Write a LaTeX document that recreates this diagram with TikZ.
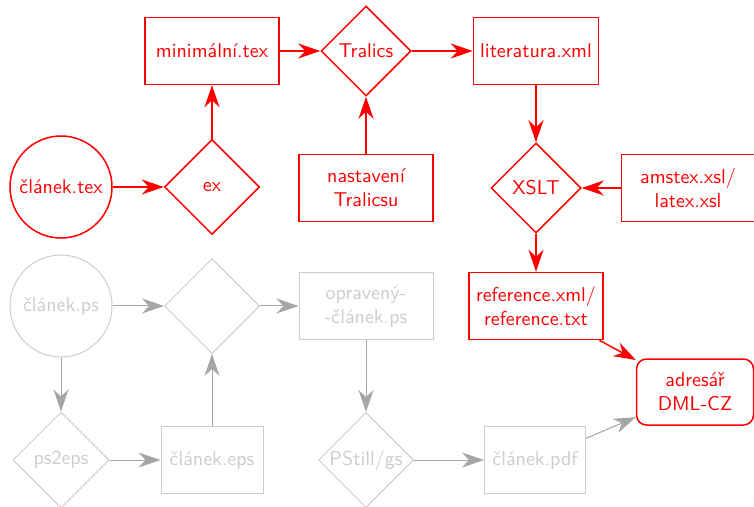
\documentclass[tikz,border=0pt]{standalone}
\usepackage{fontspec}
\usetikzlibrary{shapes.geometric}
\usetikzlibrary{arrows.meta}
\tikzset{
  every picture/.style={
    >={Stealth[length=11pt, width=7.5pt, inset=3.5pt]}
  },
  live/.style={
    draw=red, text=red, line width=0.75pt
  },
  dead/.style={
    draw=gray!40, text=gray!40, line width=0.5pt
  },
  live arrow/.style={
    ->, draw=red, line width=0.75pt
  },
  dead arrow/.style={
    ->, draw=gray!70, line width=0.5pt
  }
}

\begin{document}
\begin{tikzpicture}[
      x=0.5pt, y=-0.5pt, font=\sffamily,
      file/.style={rectangle, minimum width=67pt, minimum height=33.5pt, align=center},
      tool/.style={diamond, aspect=1, inner sep=0pt, minimum width=47.5pt, minimum height=47.5pt},
      src/.style={circle, minimum size=51pt, inner sep=0pt}
    ]
      \useasboundingbox (0,0) rectangle (754,507);
      \node [src,live] (tex) at (61,187) {článek.tex};
      \node [tool,live] (ex) at (212,187) {ex};
      \node [file,live] (min) at (212,51) {minimální.tex};
      \node [tool,live,minimum width=45pt,minimum height=45pt] (tralics) at (366,51) {Tralics};
      \node [file,live] (set) at (366,188) {nastavení\\Tralicsu};
      \node [file,live,minimum width=62.5pt] (lit) at (536,51) {literatura.xml};
      \node [tool,live,minimum width=45pt,minimum height=45pt] (xslt) at (536,188) {XSLT};
      \node [file,live,minimum width=66.5pt] (xsl) at (688,188) {amstex.xsl/\\latex.xsl};
      \node [file,live] (ref) at (536,306) {reference.xml/\\reference.txt};
      \node [file,live,minimum width=58.5pt,minimum height=33pt,rounded corners=5pt] (dml) at (695,392) {adresář\\DML-CZ};
      \node [src,dead] (ps) at (61,306) {článek.ps};
      \node [tool,dead] (fix) at (212,306) {};
      \node [file,dead] (fixed) at (366,306) {opravený-\\-článek.ps};
      \node [tool,dead,minimum width=48pt,minimum height=48pt] (ps2eps) at (61,460) {ps2eps};
      \node [file,dead,minimum width=51pt] (eps) at (212,460) {článek.eps};
      \node [tool,dead] (pstill) at (366,460) {PStill/gs};
      \node [file,dead,minimum width=50.5pt] (pdf) at (535,460) {článek.pdf};
      \draw [live arrow] (tex) -- (ex);
      \draw [live arrow] (ex) -- (min);
      \draw [live arrow] (min) -- (tralics);
      \draw [live arrow] (set) -- (tralics);
      \draw [live arrow] (tralics) -- (lit);
      \draw [live arrow] (lit) -- (xslt);
      \draw [live arrow] (xsl) -- (xslt);
      \draw [live arrow] (xslt) -- (ref);
      \draw [live arrow] (ref) -- (dml);
      \draw [dead arrow] (ps) -- (fix);
      \draw [dead arrow] (fix) -- (fixed);
      \draw [dead arrow] (ps) -- (ps2eps);
      \draw [dead arrow] (ps2eps) -- (eps);
      \draw [dead arrow] (eps) -- (fix);
      \draw [dead arrow] (fixed) -- (pstill);
      \draw [dead arrow] (pstill) -- (pdf);
      \draw [dead arrow] (pdf) -- (dml);
    \end{tikzpicture}
\end{document}
